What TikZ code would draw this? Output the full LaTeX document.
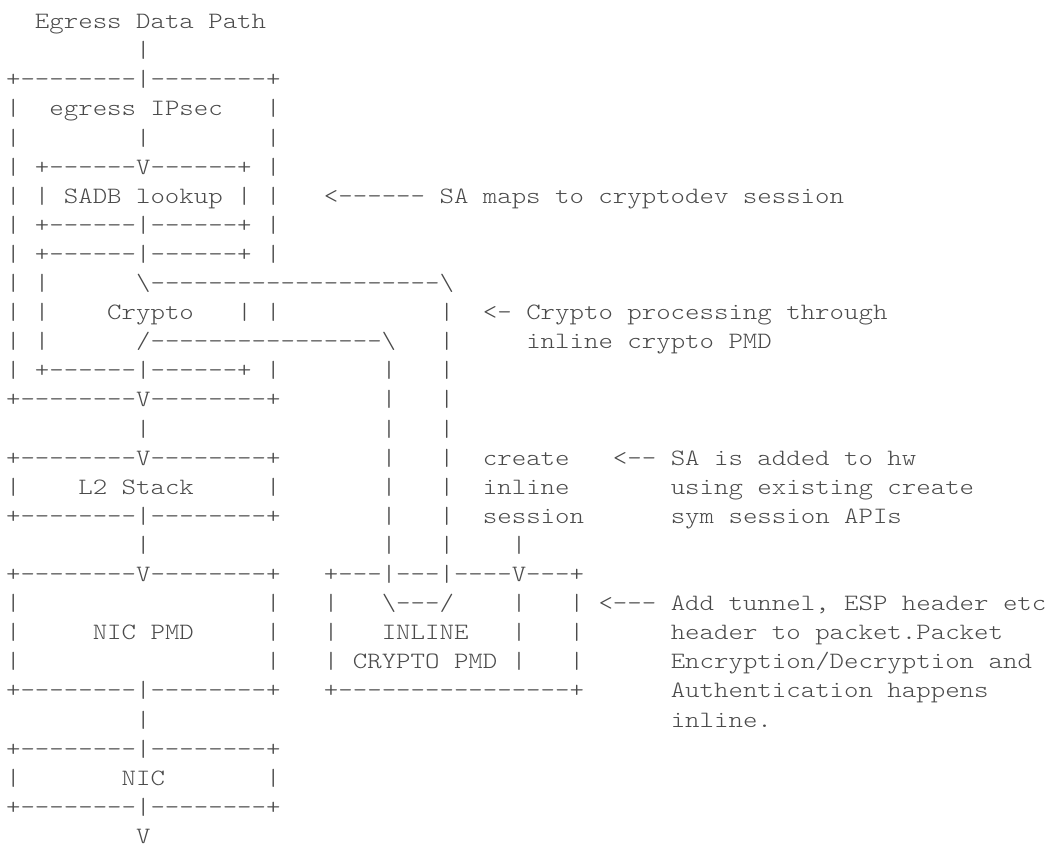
\documentclass[tikz,border=0pt]{standalone}
\usepackage{fontspec}
\setmonofont{lmmonolt10-regular.otf}[FakeStretch=1.176]
\definecolor{ink}{HTML}{4A4A4A}
\tikzset{
  txt/.style={anchor=base west, inner sep=0pt, outer sep=0pt, text=ink,
    font=\ttfamily\fontsize{23.4pt}{29pt}\selectfont}
}
% #1 name, #2 column, #3 line, #4 text
\newcommand\seg[4]{\node[txt] (#1) at ({6.08+14.45*#2},{-28.6-29.1*(#3-1)}) {#4};}
\newcommand\bs{\textbackslash}
\begin{document}
\begin{tikzpicture}[x=1pt,y=1pt]
\useasboundingbox (0,0) rectangle (1045,-846);
\frenchspacing
% line 1-3
\seg{title}{2}{1}{Egress Data Path}
\seg{a2}{9}{2}{|}
\seg{a3}{0}{3}{+--------|--------+}
% 4
\seg{a4a}{0}{4}{|}
\seg{a4b}{3}{4}{egress IPsec}
\seg{a4c}{18}{4}{|}
% 5
\seg{a5a}{0}{5}{|}
\seg{a5b}{9}{5}{|}
\seg{a5c}{18}{5}{|}
% 6
\seg{a6a}{0}{6}{|}
\seg{a6b}{2}{6}{+------V------+}
\seg{a6c}{18}{6}{|}
% 7
\seg{a7a}{0}{7}{| | SADB lookup | |}
\seg{a7b}{22}{7}{<------ SA maps to cryptodev session}
% 8, 9
\seg{a8a}{0}{8}{|}
\seg{a8b}{2}{8}{+------|------+}
\seg{a8c}{18}{8}{|}
\seg{a9a}{0}{9}{|}
\seg{a9b}{2}{9}{+------|------+}
\seg{a9c}{18}{9}{|}
% 10
\seg{a10a}{0}{10}{| |}
\seg{a10b}{9}{10}{\bs--------------------\bs}
% 11
\seg{a11a}{0}{11}{| |}
\seg{a11b}{7}{11}{Crypto}
\seg{a11c}{16}{11}{| |}
\seg{a11d}{30}{11}{|}
\seg{a11e}{33}{11}{<- Crypto processing through}
% 12
\seg{a12a}{0}{12}{| |}
\seg{a12b}{9}{12}{/----------------\bs}
\seg{a12c}{30}{12}{|}
\seg{a12d}{36}{12}{inline crypto PMD}
% 13
\seg{a13a}{0}{13}{|}
\seg{a13b}{2}{13}{+------|------+}
\seg{a13c}{18}{13}{|}
\seg{a13d}{26}{13}{|}
\seg{a13e}{30}{13}{|}
% 14
\seg{a14a}{0}{14}{+--------V--------+}
\seg{a14b}{26}{14}{|}
\seg{a14c}{30}{14}{|}
% 15
\seg{a15a}{9}{15}{|}
\seg{a15b}{26}{15}{|}
\seg{a15c}{30}{15}{|}
% 16
\seg{a16a}{0}{16}{+--------V--------+}
\seg{a16b}{26}{16}{|}
\seg{a16c}{30}{16}{|}
\seg{a16d}{33}{16}{create}
\seg{a16e}{42}{16}{<-- SA is added to hw}
% 17
\seg{a17a}{0}{17}{|}
\seg{a17b}{5}{17}{L2 Stack}
\seg{a17c}{18}{17}{|}
\seg{a17d}{26}{17}{|}
\seg{a17e}{30}{17}{|}
\seg{a17f}{33}{17}{inline}
\seg{a17g}{46}{17}{using existing create}
% 18
\seg{a18a}{0}{18}{+--------|--------+}
\seg{a18b}{26}{18}{|}
\seg{a18c}{30}{18}{|}
\seg{a18d}{33}{18}{session}
\seg{a18e}{46}{18}{sym session APIs}
% 19
\seg{a19a}{9}{19}{|}
\seg{a19b}{26}{19}{|}
\seg{a19c}{30}{19}{|}
\seg{a19d}{35}{19}{|}
% 20
\seg{a20a}{0}{20}{+--------V--------+}
\seg{a20b}{22}{20}{+---|---|----V---+}
% 21
\seg{a21a}{0}{21}{|}
\seg{a21b}{18}{21}{|}
\seg{a21c}{22}{21}{|}
\seg{a21d}{26}{21}{\bs---/}
\seg{a21e}{35}{21}{|}
\seg{a21f}{39}{21}{|}
\seg{a21g}{41}{21}{<--- Add tunnel, ESP header etc}
% 22
\seg{a22a}{0}{22}{|}
\seg{a22b}{6}{22}{NIC PMD}
\seg{a22c}{18}{22}{|}
\seg{a22d}{22}{22}{|}
\seg{a22e}{26}{22}{INLINE}
\seg{a22f}{35}{22}{|}
\seg{a22g}{39}{22}{|}
\seg{a22h}{46}{22}{header to packet.Packet}
% 23
\seg{a23a}{0}{23}{|}
\seg{a23b}{18}{23}{|}
\seg{a23c}{22}{23}{| CRYPTO PMD |}
\seg{a23d}{39}{23}{|}
\seg{a23e}{46}{23}{Encryption/Decryption and}
% 24
\seg{a24a}{0}{24}{+--------|--------+}
\seg{a24b}{22}{24}{+----------------+}
\seg{a24c}{46}{24}{Authentication happens}
% 25
\seg{a25a}{9}{25}{|}
\seg{a25b}{46}{25}{inline.}
% 26-29
\seg{a26}{0}{26}{+--------|--------+}
\seg{a27a}{0}{27}{|}
\seg{a27b}{8}{27}{NIC}
\seg{a27c}{18}{27}{|}
\seg{a28}{0}{28}{+--------|--------+}
\seg{a29}{9}{29}{V}
\end{tikzpicture}
\end{document}
